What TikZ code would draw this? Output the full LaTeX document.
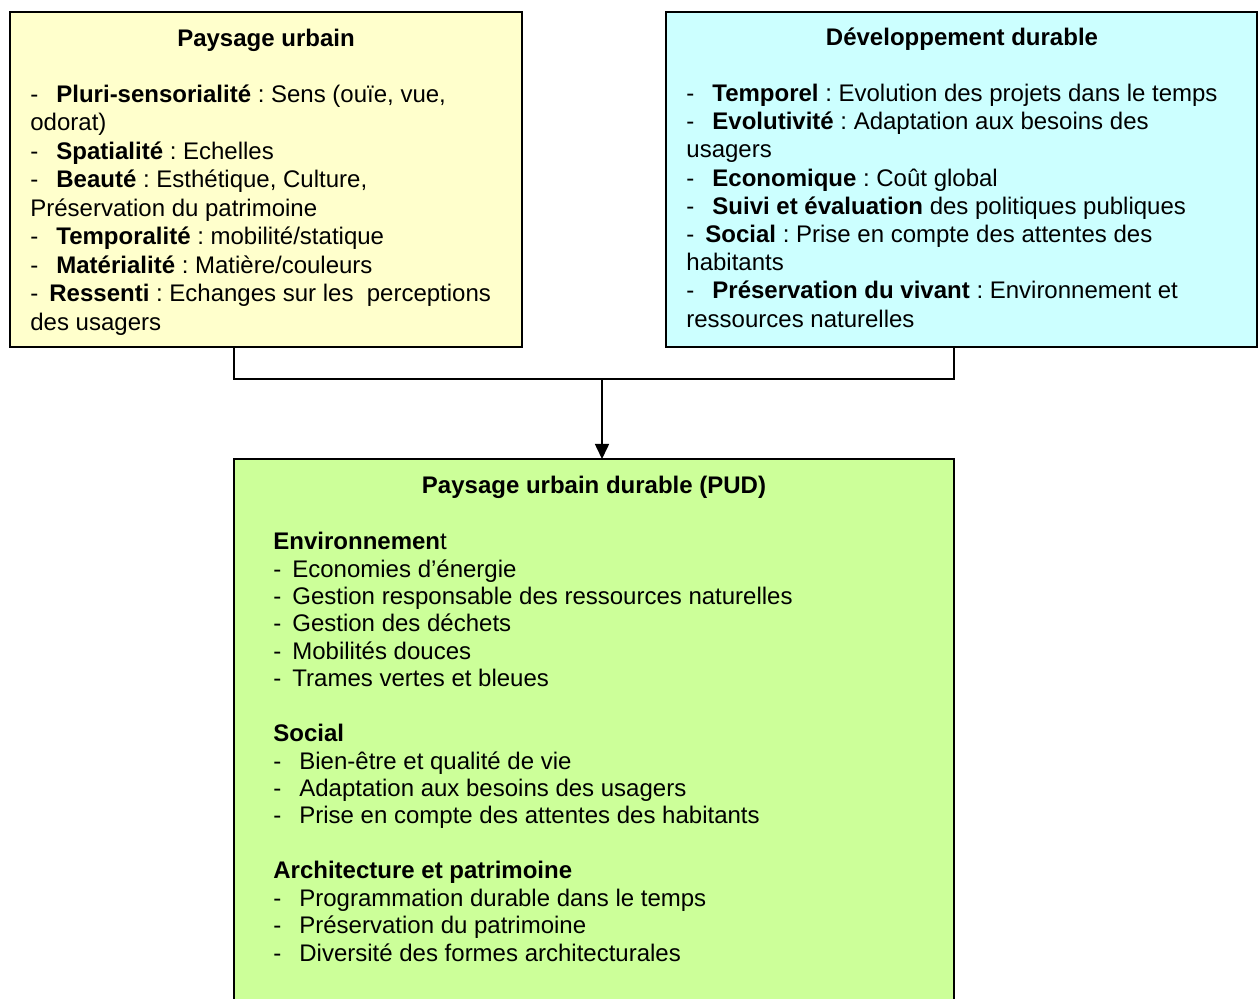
\documentclass[tikz,border=0pt]{standalone}
\usepackage{fontspec}
\setmainfont{Liberation Sans}
\usetikzlibrary{arrows.meta}
\definecolor{jaune}{HTML}{FFFFCC}
\definecolor{turquoise}{HTML}{CCFFFF}
\definecolor{vert}{HTML}{CCFF99}
\newcommand{\tiret}{\makebox[13pt][l]{-}}
\newcommand{\tiretcourt}{\makebox[9.5pt][l]{-}}
\frenchspacing

\begin{document}
\begin{tikzpicture}[
    x=0.5pt, y=-0.5pt,
    box/.style={draw, line width=1pt, anchor=north west, inner sep=0pt, outer sep=0pt},
    head/.style={font=\fontsize{12pt}{14.25pt}\selectfont\bfseries, anchor=base, inner sep=0pt},
    body/.style={align=left, anchor=north west, inner sep=0pt, font=\fontsize{12pt}{14.25pt}\selectfont},
    link/.style={line width=0.8pt}]

\clip (0,0) rectangle (1258,999);

% Boxes
\node[box, fill=jaune, minimum width=256pt, minimum height=167.5pt] (pu) at (10,12) {};
\node[box, fill=turquoise, minimum width=295.5pt, minimum height=167.5pt] (dd) at (666,12) {};
\node[box, fill=vert, minimum width=360pt, minimum height=300pt] (pud) at (234,459) {};

% Paysage urbain
\node[head] (puhead) at (266,46.5) {Paysage urbain};
\node[body] (pubody) at (30,84.5) {%
    \tiret\textbf{Pluri-sensorialité} : Sens (ouïe, vue,\\
    odorat)\\
    \tiret\textbf{Spatialité} : Echelles\\
    \tiret\textbf{Beauté} : Esthétique, Culture,\\
    Préservation du patrimoine\\
    \tiret\textbf{Temporalité} : mobilité/statique\\
    \tiret\textbf{Matérialité} : Matière/couleurs\\
    \tiretcourt\textbf{Ressenti} : Echanges sur les\ \ perceptions\\
    des usagers};

% Developpement durable
\node[head] (ddhead) at (962,45.5) {Développement durable};
\node[body, font=\fontsize{12pt}{14.1pt}\selectfont] (ddbody) at (686,83.8) {%
    \tiret\textbf{Temporel} : Evolution des projets dans le temps\\
    \tiret\textbf{Evolutivité} : Adaptation aux besoins des\\
    usagers\\
    \tiret\textbf{Economique} : Coût global\\
    \tiret\textbf{Suivi et évaluation} des politiques publiques\\
    \tiretcourt\textbf{Social} : Prise en compte des attentes des\\
    habitants\\
    \tiret\textbf{Préservation du vivant} : Environnement et\\
    ressources naturelles};

% PUD
\node[head] (pudhead) at (594,493.5) {Paysage urbain durable (PUD)};
\node[body, font=\fontsize{12pt}{13.72pt}\selectfont] (pudbody) at (273,531.8) {%
    \textbf{Environnemen}t\\
    \tiretcourt Economies d’énergie\\
    \tiretcourt Gestion responsable des ressources naturelles\\
    \tiretcourt Gestion des déchets\\
    \tiretcourt Mobilités douces\\
    \tiretcourt Trames vertes et bleues\\[13.72pt]
    \textbf{Social}\\
    \tiret Bien-être et qualité de vie\\
    \tiret Adaptation aux besoins des usagers\\
    \tiret Prise en compte des attentes des habitants\\[13.72pt]
    \textbf{Architecture et patrimoine}\\
    \tiret Programmation durable dans le temps\\
    \tiret Préservation du patrimoine\\
    \tiret Diversité des formes architecturales};

% Connectors
\coordinate (join) at (602,379);
\draw[link] (pu.south -| pud.west) |- (join) -| (pud.east |- dd.south);
\draw[link, -{Triangle[length=7.5pt, width=7pt]}] (join) -- (join |- pud.north);

\end{tikzpicture}
\end{document}
